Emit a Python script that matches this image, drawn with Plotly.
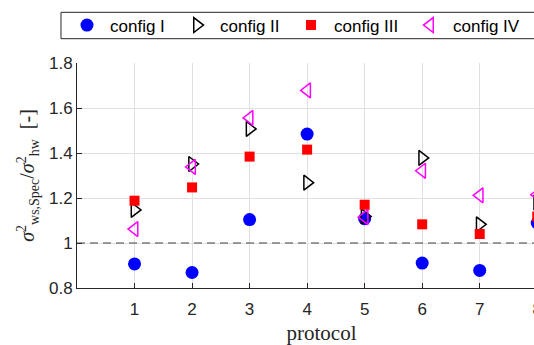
import plotly.graph_objects as go

# protocol index and measured variance ratios for each configuration
protocol = [1, 2, 3, 4, 5, 6, 7, 8]
config_I = [0.907, 0.869, 1.104, 1.484, 1.108, 0.911, 0.878, 1.089]
config_II = [1.147, 1.351, 1.507, 1.268, 1.118, 1.378, 1.083, 1.180]
config_III = [1.188, 1.247, 1.384, 1.415, 1.170, 1.083, 1.040, 1.118]
config_IV = [1.062, 1.338, 1.556, 1.678, 1.115, 1.321, 1.212, 1.215]

y_ticks = [0.8, 1.0, 1.2, 1.4, 1.6, 1.8]
x_ticks = [1, 2, 3, 4, 5, 6, 7, 8]
reference_level = 1.0

AX = "#262626"
GRID = "#e0e0e0"
SANS = "Liberation Sans, Arial, sans-serif"
SERIF = "Liberation Serif, Times New Roman, serif"

# figure is wider than the viewport; the right-hand part runs off the page
FIG_W, FIG_H = 580, 345
M_L, M_T, M_B = 77, 63, 57
X_MAX = 8.5
PX_PER_UNIT = 57.5
M_R = FIG_W - M_L - X_MAX * PX_PER_UNIT
PLOT_W = FIG_W - M_L - M_R
PLOT_H = FIG_H - M_T - M_B

def px_x(p):
    return (p - M_L) / PLOT_W

def px_y(p):
    return (FIG_H - M_B - p) / PLOT_H

series = [
    ("config I", config_I, dict(symbol="circle", size=13, color="#0000ff"), 59),
    ("config II", config_II, dict(symbol="triangle-right-open", size=13, color="#000000",
                                  line=dict(width=1.5, color="#000000")), 63),
    ("config III", config_III, dict(symbol="square", size=10, color="#ff0000"), 68),
    ("config IV", config_IV, dict(symbol="triangle-left-open", size=13, color="#ff00ff",
                                  line=dict(width=1.5, color="#ff00ff")), 80),
]

fig = go.Figure()
for name, vals, marker, lw in series:
    fig.add_trace(go.Scatter(
        x=protocol, y=vals, mode="markers", name=name,
        marker=marker, cliponaxis=False, legendwidth=lw,
    ))

fig.add_hline(y=reference_level, line=dict(color="#404040", width=1, dash="8px,5px"))

# legend frame
fig.add_shape(
    type="rect", xref="paper", yref="paper",
    x0=px_x(61), x1=px_x(FIG_W + 20), y0=px_y(38.7), y1=px_y(12.3),
    line=dict(color=AX, width=1), fillcolor="white", layer="below",
)

fig.update_layout(
    width=FIG_W, height=FIG_H,
    margin=dict(l=M_L, r=M_R, t=M_T, b=M_B, autoexpand=False),
    plot_bgcolor="white", paper_bgcolor="white",
    font=dict(family=SANS, size=17, color=AX),
    showlegend=True,
    legend=dict(
        orientation="h", x=px_x(64), y=px_y(25.5), xanchor="left", yanchor="middle",
        borderwidth=0, bgcolor="rgba(0,0,0,0)",
        font=dict(family=SANS, size=17, color="#000000"),
        itemwidth=36,
    ),
    xaxis=dict(
        range=[0, X_MAX], tickvals=x_ticks, ticks="inside", ticklen=5, tickcolor=AX,
        showline=True, linecolor=AX, linewidth=1, mirror=False,
        showgrid=True, gridcolor=GRID, zeroline=False, ticklabelstandoff=6,
        title=dict(text="protocol", font=dict(family=SERIF, size=21, color=AX), standoff=10),
    ),
    yaxis=dict(
        range=[0.8, 1.8], tickvals=y_ticks, ticks="inside", ticklen=5, tickcolor=AX,
        showline=True, linecolor=AX, linewidth=1, mirror=False,
        showgrid=True, gridcolor=GRID, zeroline=False,
        title=dict(
            text="<i>σ</i><sup>2</sup><sub>ws,Spec</sub>/<i>σ</i><sup>2</sup><sub>hw</sub>  [-]",
            font=dict(family=SERIF, size=20, color=AX), standoff=8,
        ),
    ),
)

fig.write_html(
    "out.html",
    post_script="document.documentElement.style.overflow='hidden';"
                "document.body.style.overflow='hidden';",
)
